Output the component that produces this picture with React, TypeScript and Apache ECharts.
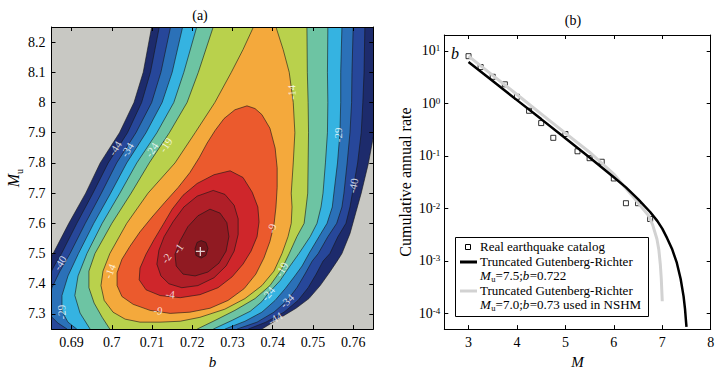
import React, { useEffect, useRef } from 'react';
import * as echarts from 'echarts';

const FONT = "'Liberation Serif', 'Times New Roman', Times, serif";

// ---------------- Panel (a): likelihood contours over (b, Mu) ----------------
const bTicks = [0.69, 0.7, 0.71, 0.72, 0.73, 0.74, 0.75, 0.76];
const muTicks = [7.3, 7.4, 7.5, 7.6, 7.7, 7.8, 7.9, 8, 8.1, 8.2];
const contourLevels = [-44, -40, -34, -29, -24, -19, -14, -9, -4, -2, -1, -0.5];
const contourColors = ['#1d2b6c', '#27479a', '#2b71b8', '#35b3e1', '#6dc4a3', '#b9d14c', '#f4a93c', '#eb5a2d', '#cf262b', '#b01f28', '#901a22', '#72141b'];

const contourL44 = [[0.7107, 8.37], [0.7099, 8.25], [0.7078, 8.1], [0.7055, 8.0], [0.7019, 7.9], [0.6971, 7.8], [0.6935, 7.7], [0.6893, 7.6], [0.6854, 7.5], [0.6834, 7.459], [0.6797, 7.165], [0.7356, 7.214], [0.7373, 7.25], [0.7413, 7.283], [0.7458, 7.319], [0.749, 7.351], [0.7518, 7.394], [0.7542, 7.439], [0.756, 7.475], [0.7572, 7.5], [0.7592, 7.566], [0.7607, 7.638], [0.762, 7.7], [0.7638, 7.8], [0.7652, 7.9], [0.7662, 8.0], [0.767, 8.1], [0.7678, 8.25], [0.7685, 8.37]];
const contourL40 = [[0.7125, 8.37], [0.7118, 8.25], [0.7096, 8.1], [0.7074, 8.0], [0.7039, 7.9], [0.6991, 7.8], [0.6953, 7.7], [0.6913, 7.6], [0.6875, 7.5], [0.6859, 7.465], [0.6841, 7.42], [0.6826, 7.361], [0.6821, 7.296], [0.6834, 7.214], [0.7319, 7.214], [0.7339, 7.25], [0.7383, 7.273], [0.7428, 7.306], [0.7463, 7.345], [0.7488, 7.387], [0.7508, 7.432], [0.7525, 7.475], [0.7542, 7.5], [0.7562, 7.556], [0.7582, 7.6], [0.7592, 7.654], [0.7598, 7.7], [0.7611, 7.8], [0.762, 7.9], [0.7624, 8.0], [0.7627, 8.1], [0.7629, 8.25], [0.7632, 8.37]];
const contourL34 = [[0.7155, 8.37], [0.7146, 8.25], [0.7122, 8.1], [0.7099, 8.0], [0.706, 7.9], [0.7012, 7.8], [0.6974, 7.7], [0.6934, 7.6], [0.6896, 7.5], [0.6871, 7.442], [0.6851, 7.387], [0.6839, 7.338], [0.6846, 7.296], [0.6866, 7.27], [0.6889, 7.25], [0.6901, 7.214], [0.7294, 7.214], [0.7311, 7.25], [0.7361, 7.273], [0.7403, 7.306], [0.7436, 7.345], [0.746, 7.387], [0.748, 7.432], [0.7498, 7.475], [0.7513, 7.5], [0.7537, 7.556], [0.7559, 7.6], [0.7572, 7.654], [0.7577, 7.7], [0.7585, 7.8], [0.7592, 7.9], [0.7596, 8.0], [0.7597, 8.1], [0.76, 8.25], [0.7602, 8.37]];
const contourL29 = [[0.7184, 8.37], [0.7176, 8.25], [0.715, 8.1], [0.7125, 8.0], [0.7085, 7.9], [0.7037, 7.8], [0.6997, 7.7], [0.6955, 7.6], [0.6917, 7.5], [0.6891, 7.426], [0.6876, 7.361], [0.6876, 7.309], [0.6891, 7.273], [0.6913, 7.25], [0.6926, 7.214], [0.7264, 7.214], [0.7281, 7.25], [0.7331, 7.276], [0.7373, 7.306], [0.7406, 7.345], [0.7431, 7.384], [0.7455, 7.426], [0.7473, 7.459], [0.749, 7.5], [0.7515, 7.556], [0.7535, 7.6], [0.7548, 7.654], [0.7552, 7.7], [0.7561, 7.8], [0.7567, 7.9], [0.7569, 8.0], [0.7569, 8.1], [0.7572, 8.25], [0.7572, 8.37]];
const contourL24 = [[0.7219, 8.37], [0.7211, 8.25], [0.7179, 8.1], [0.7154, 8.0], [0.7112, 7.9], [0.7062, 7.8], [0.702, 7.7], [0.6976, 7.6], [0.6938, 7.5], [0.6916, 7.426], [0.6908, 7.361], [0.6921, 7.303], [0.6946, 7.25], [0.6958, 7.214], [0.7232, 7.214], [0.7252, 7.25], [0.7299, 7.279], [0.7344, 7.309], [0.7373, 7.341], [0.7388, 7.367], [0.7418, 7.41], [0.7443, 7.459], [0.7465, 7.5], [0.7493, 7.556], [0.751, 7.6], [0.752, 7.654], [0.7525, 7.7], [0.7531, 7.8], [0.7536, 7.9], [0.7537, 8.0], [0.7536, 8.1], [0.7537, 8.25], [0.7537, 8.37]];
const contourL19 = [[0.7259, 8.37], [0.7252, 8.25], [0.7215, 8.1], [0.7187, 8.0], [0.7143, 7.9], [0.7093, 7.8], [0.7048, 7.7], [0.7, 7.6], [0.6958, 7.5], [0.6943, 7.442], [0.6943, 7.387], [0.6956, 7.336], [0.6976, 7.289], [0.6995, 7.25], [0.7008, 7.214], [0.7194, 7.214], [0.7212, 7.25], [0.7257, 7.279], [0.7306, 7.312], [0.7356, 7.351], [0.7393, 7.394], [0.7422, 7.448], [0.7441, 7.5], [0.746, 7.556], [0.7478, 7.6], [0.7483, 7.654], [0.7487, 7.7], [0.7488, 7.8], [0.7489, 7.9], [0.7488, 8.0], [0.7486, 8.1], [0.7485, 8.25], [0.7483, 8.37]];
const contourL14 = [[0.7358, 8.37], [0.7352, 8.25], [0.7326, 8.175], [0.7297, 8.1], [0.7256, 8.0], [0.7207, 7.9], [0.7157, 7.8], [0.709, 7.7], [0.7037, 7.6], [0.6995, 7.5], [0.6978, 7.442], [0.6973, 7.394], [0.6981, 7.345], [0.7003, 7.306], [0.7033, 7.283], [0.707, 7.273], [0.712, 7.273], [0.717, 7.276], [0.7219, 7.289], [0.7281, 7.316], [0.7331, 7.351], [0.7373, 7.394], [0.7403, 7.442], [0.7423, 7.5], [0.7438, 7.556], [0.7446, 7.6], [0.7448, 7.654], [0.7446, 7.7], [0.7451, 7.8], [0.7455, 7.9], [0.7451, 8.0], [0.7441, 8.1], [0.7426, 8.175], [0.7408, 8.25], [0.7403, 8.37]];
const contourL9 = [[0.7336, 7.989], [0.7306, 7.976], [0.7279, 7.947], [0.7257, 7.908], [0.7237, 7.866], [0.7217, 7.817], [0.7194, 7.768], [0.7165, 7.719], [0.7132, 7.67], [0.71, 7.621], [0.707, 7.572], [0.7045, 7.524], [0.7025, 7.481], [0.7013, 7.436], [0.7013, 7.394], [0.7025, 7.358], [0.7053, 7.332], [0.7095, 7.312], [0.7145, 7.302], [0.7194, 7.306], [0.7244, 7.319], [0.7289, 7.345], [0.7329, 7.384], [0.7358, 7.432], [0.7378, 7.485], [0.7393, 7.54], [0.7403, 7.595], [0.7408, 7.654], [0.7411, 7.719], [0.7411, 7.784], [0.7406, 7.849], [0.7393, 7.915], [0.7373, 7.96], [0.7356, 7.98]];
const contourL4 = [[0.7294, 7.774], [0.7326, 7.752], [0.7349, 7.703], [0.7363, 7.654], [0.7366, 7.605], [0.7361, 7.556], [0.7346, 7.508], [0.7326, 7.465], [0.7299, 7.423], [0.7264, 7.387], [0.7219, 7.364], [0.717, 7.354], [0.712, 7.361], [0.7085, 7.38], [0.7068, 7.413], [0.707, 7.452], [0.7085, 7.498], [0.7105, 7.546], [0.7127, 7.595], [0.715, 7.647], [0.7177, 7.693], [0.7212, 7.732], [0.7254, 7.761]];
const contourL2 = [[0.7252, 7.709], [0.7281, 7.696], [0.7304, 7.66], [0.7314, 7.615], [0.7314, 7.563], [0.7304, 7.508], [0.7284, 7.459], [0.7254, 7.42], [0.7214, 7.394], [0.7174, 7.387], [0.7142, 7.4], [0.7122, 7.426], [0.7112, 7.465], [0.7117, 7.511], [0.713, 7.556], [0.7152, 7.605], [0.7179, 7.654], [0.7212, 7.69]];
const contourL1 = [[0.7244, 7.647], [0.7269, 7.634], [0.7286, 7.602], [0.7291, 7.556], [0.7284, 7.508], [0.7266, 7.468], [0.7239, 7.439], [0.7207, 7.426], [0.7177, 7.432], [0.716, 7.459], [0.7157, 7.498], [0.717, 7.543], [0.7189, 7.589], [0.7214, 7.625]];
const contourL05 = [[0.7222, 7.543], [0.7234, 7.537], [0.7239, 7.517], [0.7234, 7.494], [0.7222, 7.485], [0.7209, 7.494], [0.7207, 7.517], [0.7212, 7.537]];

// [b, Mu, text, rotation]
const contourLabels: [number, number, string, number][] = [
  [0.7008, 7.849, '-44', 58], [0.7038, 7.844, '-34', 58], [0.7099, 7.844, '-24', 57], [0.7134, 7.86, '-19', 57],
  [0.7447, 8.034, '-14', 92], [0.7563, 7.893, '-29', 90], [0.76, 7.725, '-40', 80],
  [0.6871, 7.469, '-40', 58], [0.6875, 7.306, '-29', 95], [0.6995, 7.442, '-14', 68],
  [0.7135, 7.485, '-2', 55], [0.7165, 7.517, '-1', 55], [0.7145, 7.366, '-4', -5], [0.7115, 7.312, '-9', -5],
  [0.7397, 7.583, '-9', 77], [0.7422, 7.448, '-19', 60], [0.7388, 7.367, '-24', 51], [0.7435, 7.344, '-34', 45], [0.7406, 7.286, '-44', 31],
];
const bestFit = [[0.722, 7.507]];

// ---------------- Panel (b): magnitude-frequency ----------------
const mTicks = [3, 4, 5, 6, 7, 8];
const catalogM = [3.0, 3.25, 3.5, 3.75, 4.0, 4.25, 4.5, 4.75, 5.0, 5.25, 5.5, 5.75, 6.0, 6.25, 6.5, 6.75];
const catalogRate = [7.9, 4.9, 3.2, 2.3, 1.33, 0.72, 0.42, 0.22, 0.26, 0.122, 0.09, 0.077, 0.037, 0.0125, 0.0125, 0.00625];
const trgrM = [3.0, 3.5, 4.0, 4.5, 5.0, 5.5, 6.0, 6.25, 6.5, 6.75, 6.9, 7.0, 7.1, 7.2, 7.3, 7.38, 7.44, 7.47, 7.49, 7.5];
const trgrRate = [6.1, 2.65, 1.15, 0.5, 0.215, 0.093, 0.039, 0.025, 0.015, 0.0085, 0.0057, 0.0041, 0.0027, 0.0017, 0.00092, 0.00045, 0.00021, 0.00012, 0.00007, 0.000055];
const nshmM = [3.0, 3.5, 4.0, 4.5, 5.0, 5.5, 6.0, 6.2, 6.4, 6.6, 6.72, 6.8, 6.89, 6.93, 6.96, 6.98, 7.0];
const nshmRate = [7.9, 3.4, 1.47, 0.63, 0.27, 0.117, 0.045, 0.027, 0.0165, 0.0098, 0.0072, 0.0049, 0.0026, 0.0016, 0.00085, 0.00045, 0.00017];

function buildOption() {
  const polys = [contourL44, contourL40, contourL34, contourL29, contourL24, contourL19, contourL14, contourL9, contourL4, contourL2, contourL1, contourL05];
  const axisLine = { show: true, onZero: false, lineStyle: { color: '#000', width: 1 } };
  const tick = (vals?: number[]) => {
    const t: any = { show: true, inside: true, length: 4, lineStyle: { color: '#000', width: 1 } };
    if (vals) t.customValues = vals;
    return t;
  };
  const lbl = { fontFamily: FONT, fontSize: 14, color: '#000' };
  const subRich = {
    i: { fontFamily: FONT, fontSize: 16, fontStyle: 'italic', color: '#000', lineHeight: 17, verticalAlign: 'top' },
    s: { fontFamily: FONT, fontSize: 10, color: '#000', lineHeight: 10, padding: [9, 0, 0, 0], verticalAlign: 'top' },
  };
  const logLabel = (v: number) => {
    const l = Math.log10(v);
    const e = Math.round(l);
    if (Math.abs(l - e) > 1e-6) return '';
    return '{b|10}{s|' + e + '}';
  };
  const LEG = 13;
  const txt = (x: number, y: number, text: string, extra: any = {}) => ({
    type: 'text', x, y, z: 100,
    style: Object.assign({ text, fill: '#000', fontFamily: FONT, fontSize: 14, align: 'left', verticalAlign: 'middle', textAlign: 'left', textVerticalAlign: 'middle' }, extra),
  });
  const ctx = document.createElement('canvas').getContext('2d');
  const measure = (t: string, size: number, italic: boolean) => {
    if (!ctx) return t.length * size * 0.5;
    ctx.font = (italic ? 'italic ' : '') + size + 'px ' + FONT;
    return ctx.measureText(t).width;
  };
  // segments: [text, kind] with kind n (normal), i (italic), s (subscript)
  const segLine = (x: number, y: number, segs: [string, string][]) => {
    const out: any[] = [];
    let cx = x;
    segs.forEach(([t, k]) => {
      const size = k === 's' ? 8.5 : LEG;
      const italic = k === 'i';
      out.push(txt(cx, y + (k === 's' ? 3.5 : 0), t, { fontSize: size, fontStyle: italic ? 'italic' : 'normal' }));
      cx += measure(t, size, italic) + (k === 'i' ? 0.5 : 0);
    });
    return out;
  };

  return {
    animation: false,
    backgroundColor: '#fff',
    textStyle: { fontFamily: FONT },
    grid: [
      { left: 51.5, top: 27, width: 321.8, height: 307, show: true, backgroundColor: '#c8c8c3', borderWidth: 0 },
      { left: 444.3, top: 35, width: 266.4, height: 301, show: true, backgroundColor: '#fff', borderWidth: 0 },
    ],
    xAxis: [
      { gridIndex: 0, type: 'value', min: 0.685, max: 0.765, position: 'bottom', z: 10, axisLine, axisTick: tick(bTicks), splitLine: { show: false },
        axisLabel: Object.assign({ margin: 6, customValues: bTicks }, lbl),
        name: 'b', nameLocation: 'middle', nameGap: 15, nameTextStyle: { fontFamily: FONT, fontSize: 15, fontStyle: 'italic', color: '#000' } },
      { gridIndex: 0, type: 'value', min: 0.685, max: 0.765, position: 'top', z: 10, axisLine, axisTick: tick(bTicks), splitLine: { show: false }, axisLabel: { show: false } },
      { gridIndex: 1, type: 'value', min: 2.5, max: 8, position: 'bottom', z: 10, axisLine, axisTick: tick(mTicks), splitLine: { show: false },
        axisLabel: Object.assign({ margin: 6, customValues: mTicks }, lbl),
        name: 'M', nameLocation: 'middle', nameGap: 17, nameTextStyle: { fontFamily: FONT, fontSize: 15, fontStyle: 'italic', color: '#000' } },
      { gridIndex: 1, type: 'value', min: 2.5, max: 8, position: 'top', z: 10, axisLine, axisTick: tick(mTicks), splitLine: { show: false }, axisLabel: { show: false } },
    ],
    yAxis: [
      { gridIndex: 0, type: 'value', min: 7.25, max: 8.25, position: 'left', z: 10, axisLine, axisTick: tick(muTicks), splitLine: { show: false },
        axisLabel: Object.assign({ margin: 6, customValues: muTicks }, lbl),
        name: '{i|M}{s|u}', nameLocation: 'middle', nameGap: 28, nameTextStyle: { fontFamily: FONT, fontSize: 16, color: '#000', rich: subRich } },
      { gridIndex: 0, type: 'value', min: 7.25, max: 8.25, position: 'right', z: 10, axisLine, axisTick: tick(muTicks), splitLine: { show: false }, axisLabel: { show: false } },
      { gridIndex: 1, type: 'log', logBase: 10, min: 0.00005, max: 20, position: 'left', z: 10, axisLine, axisTick: tick(), splitLine: { show: false },
        axisLabel: { margin: 4, formatter: logLabel, rich: {
          b: { fontFamily: FONT, fontSize: 14, color: '#000', lineHeight: 14, padding: [3, 0, 0, 0], verticalAlign: 'bottom' },
          s: { fontFamily: FONT, fontSize: 9, color: '#000', lineHeight: 9, verticalAlign: 'top' },
        } },
        name: 'Cumulative annual rate', nameLocation: 'middle', nameGap: 31, nameTextStyle: { fontFamily: FONT, fontSize: 16, color: '#000' } },
      { gridIndex: 1, type: 'log', logBase: 10, min: 0.00005, max: 20, position: 'right', z: 10, axisLine, axisTick: tick(), splitLine: { show: false }, axisLabel: { show: false } },
    ],
    series: [
      {
        type: 'custom', xAxisIndex: 0, yAxisIndex: 0, clip: true, silent: true, z: 2,
        data: contourLevels.map((lv, i) => [polys[i][1][0], polys[i][1][1], lv]),
        encode: { x: 0, y: 1 },
        renderItem: (params: any, api: any) => {
          const i = params.dataIndex;
          const pts = polys[i].map((p) => api.coord(p));
          return { type: 'polygon', z2: i, shape: { points: pts }, style: { fill: contourColors[i], stroke: '#151515', lineWidth: 0.6 } };
        },
      },
      {
        type: 'scatter', xAxisIndex: 0, yAxisIndex: 0, silent: true, z: 5, symbol: 'circle', symbolSize: 1,
        itemStyle: { color: 'rgba(0,0,0,0)' },
        label: { show: true, position: 'inside', color: '#fff', fontFamily: FONT, fontSize: 11 },
        data: contourLabels.map((l) => ({ value: [l[0], l[1]], label: { show: true, formatter: l[2], rotate: l[3] } })),
      },
      {
        type: 'scatter', xAxisIndex: 0, yAxisIndex: 0, silent: true, z: 6,
        symbol: 'path://M4.3,0H5.7V10H4.3ZM0,4.3H10V5.7H0Z', symbolSize: 9, itemStyle: { color: '#fff' },
        data: bestFit,
      },
      {
        type: 'scatter', xAxisIndex: 2, yAxisIndex: 2, silent: true, z: 2, symbol: 'rect', symbolSize: 5,
        itemStyle: { color: 'rgba(255,255,255,0)', borderColor: '#000', borderWidth: 1 },
        data: catalogM.map((m, i) => [m, catalogRate[i]]),
      },
      {
        type: 'line', xAxisIndex: 2, yAxisIndex: 2, silent: true, z: 3, symbol: 'none', showSymbol: false,
        lineStyle: { color: '#d2d2d2', width: 3 },
        data: nshmM.map((m, i) => [m, nshmRate[i]]),
      },
      {
        type: 'line', xAxisIndex: 2, yAxisIndex: 2, silent: true, z: 4, symbol: 'none', showSymbol: false,
        lineStyle: { color: '#000', width: 2.5 },
        data: trgrM.map((m, i) => [m, trgrRate[i]]),
      },
    ],
    graphic: { elements: [
      txt(200, 15, '(a)', { align: 'center', textAlign: 'center' }),
      txt(573, 20, '(b)', { align: 'center', textAlign: 'center' }),
      txt(451, 53, 'b', { fontStyle: 'italic', fontSize: 16 }),
      { type: 'rect', z: 99, shape: { x: 455.5, y: 237.5, width: 193, height: 79 }, style: { fill: '#fff', stroke: '#000', lineWidth: 1 } },
      { type: 'rect', z: 100, shape: { x: 465.5, y: 244.5, width: 5, height: 5 }, style: { fill: 'none', stroke: '#000', lineWidth: 1 } },
      txt(480, 246.5, 'Real earthquake catalog', { fontSize: LEG }),
      { type: 'line', z: 100, shape: { x1: 460, y1: 262, x2: 477, y2: 262 }, style: { stroke: '#000', lineWidth: 3 } },
      txt(480, 261.5, 'Truncated Gutenberg-Richter', { fontSize: LEG }),
      ...segLine(480, 275, [['M', 'i'], ['u', 's'], ['=7.5;', 'n'], ['b', 'i'], ['=0.722', 'n']]),
      { type: 'line', z: 100, shape: { x1: 460, y1: 291, x2: 477, y2: 291 }, style: { stroke: '#d2d2d2', lineWidth: 3 } },
      txt(480, 290.5, 'Truncated Gutenberg-Richter', { fontSize: LEG }),
      ...segLine(480, 304.5, [['M', 'i'], ['u', 's'], ['=7.0;', 'n'], ['b', 'i'], ['=0.73 used in NSHM', 'n']]),
    ] },
  };
}

export default function App() {
  const ref = useRef<HTMLDivElement>(null);
  useEffect(() => {
    if (!ref.current) return;
    const chart = echarts.init(ref.current, null, { renderer: 'svg' });
    chart.setOption(buildOption() as any);
    return () => chart.dispose();
  }, []);
  return <div ref={ref} style={{ position: 'fixed', left: 0, top: 0, width: 719, height: 374, background: '#fff' }} />;
}
